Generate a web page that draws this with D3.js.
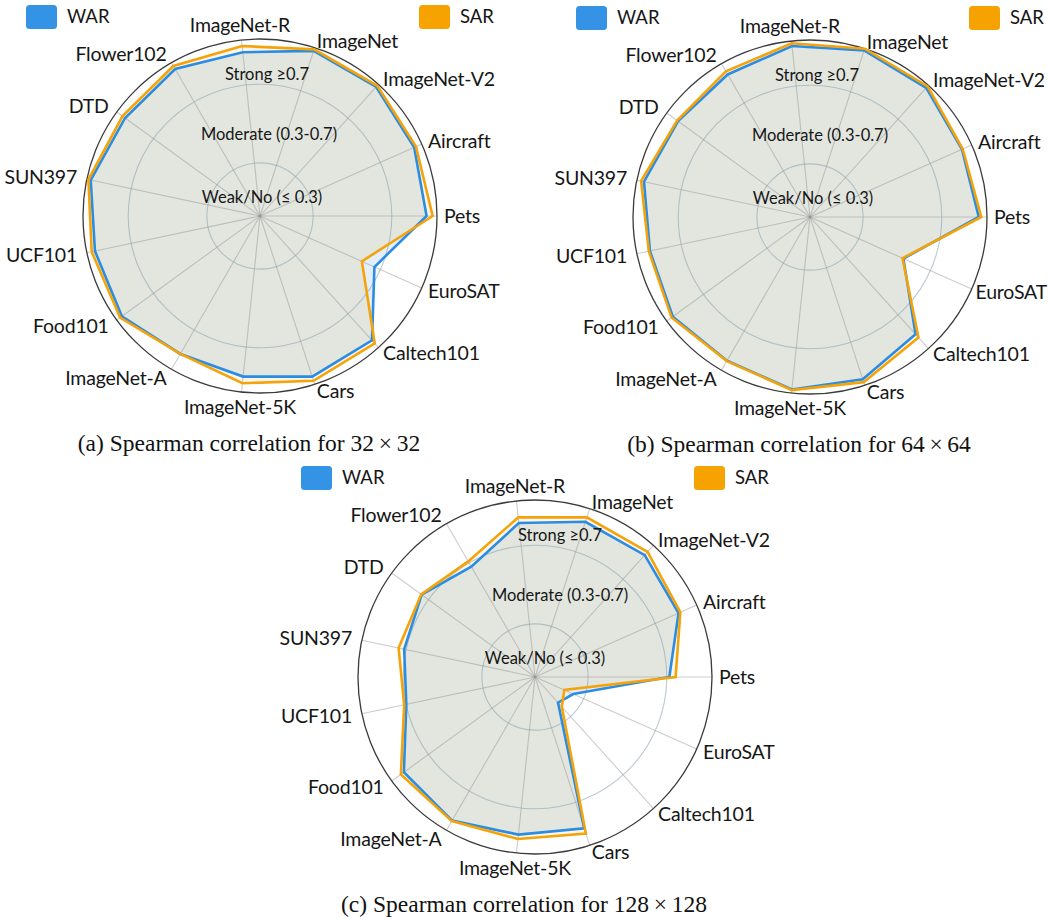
<!DOCTYPE html>
<html>
<head>
<meta charset="utf-8">
<script src="https://cdn.jsdelivr.net/npm/d3@7"></script>
<style>
  html, body { margin: 0; padding: 0; background: #fff; }
  svg { display: block; }
</style>
</head>
<body>
<script>
// Datasets, listed counter-clockwise starting from the 3 o'clock spoke
const categories = ["Pets", "Aircraft", "ImageNet-V2", "ImageNet", "ImageNet-R", "Flower102",
  "DTD", "SUN397", "UCF101", "Food101", "ImageNet-A", "ImageNet-5K", "Cars", "Caltech101", "EuroSAT"];

// Spearman correlation per dataset, 32x32
const war32 = [0.877, 0.888, 0.913, 0.913, 0.867, 0.893, 0.878, 0.910, 0.888, 0.898, 0.840, 0.851, 0.889, 0.881, 0.667];
const sar32 = [0.908, 0.898, 0.921, 0.921, 0.899, 0.911, 0.894, 0.922, 0.905, 0.909, 0.840, 0.885, 0.911, 0.902, 0.597];

// 64x64
const war64 = [0.888, 0.876, 0.913, 0.921, 0.904, 0.867, 0.859, 0.893, 0.862, 0.892, 0.874, 0.912, 0.898, 0.832, 0.550];
const sar64 = [0.901, 0.880, 0.924, 0.930, 0.918, 0.885, 0.865, 0.908, 0.868, 0.900, 0.876, 0.915, 0.913, 0.854, 0.545];

// 128x128
const war128 = [0.713, 0.829, 0.864, 0.860, 0.817, 0.678, 0.742, 0.710, 0.699, 0.854, 0.873, 0.836, 0.839, 0.205, 0.243];
const sar128 = [0.745, 0.839, 0.886, 0.884, 0.846, 0.709, 0.745, 0.739, 0.710, 0.873, 0.876, 0.858, 0.867, 0.234, 0.193];

const seriesNames = ["WAR", "SAR"];
const gridValues = [0.3, 0.7];
const bandLabels = ["Weak/No (\u2264 0.3)", "Moderate (0.3-0.7)", "Strong \u22650.7"];
const captions = [
  "(a) Spearman correlation for 32\u2009\u00d7\u200932",
  "(b) Spearman correlation for 64\u2009\u00d7\u200964",
  "(c) Spearman correlation for 128\u2009\u00d7\u2009128"
];

// ---- layout ----
const W = 1049, H = 917;
const R = 177;
const radialDomain = [0.03, 0.93];
const panels = [
  { cx: 260, cy: 216, war: war32,  sar: sar32,  caption: captions[0], bandDx: [2, 9, 7] },
  { cx: 810, cy: 217, war: war64,  sar: sar64,  caption: captions[1], bandDx: [3, 10, 7] },
  { cx: 535, cy: 677, war: war128, sar: sar128, caption: captions[2], bandDx: [10, 25, 25] }
];
const bandDy = [-19, -82, -142];

const colors = {
  war: "#2b8de2", sar: "#f4a30a",
  warSwatch: "#3593e6", sarSwatch: "#f6a200",
  warOnly: "#e4eefa", sarOnly: "#fbf5ea", both: "#e2e6df"
};

const labelFont = "Lato, 'Open Sans', sans-serif";

const svg = d3.select("body").append("svg")
  .attr("width", W).attr("height", H)
  .attr("viewBox", `0 0 ${W} ${H}`);
svg.append("rect").attr("width", W).attr("height", H).attr("fill", "#fff");

const r = d3.scaleLinear().domain(radialDomain).range([0, R]);
const angle = d3.scaleLinear().domain([0, categories.length]).range([0, 2 * Math.PI]);

// d3.lineRadial measures angles clockwise from 12 o'clock
const radialLine = vals => d3.lineRadial()
  .angle((d, i) => Math.PI / 2 - angle(i))
  .radius(d => r(d))
  .curve(d3.curveLinearClosed)(vals);

panels.forEach((p, pi) => {
  const g = svg.append("g").attr("transform", `translate(${p.cx},${p.cy})`);
  const clipId = `war-clip-${pi}`;
  g.append("clipPath").attr("id", clipId)
    .append("path").attr("d", radialLine(p.war));

  // fills: each series on its own, and the shared area on top
  g.append("path").attr("d", radialLine(p.war)).attr("fill", colors.warOnly);
  g.append("path").attr("d", radialLine(p.sar)).attr("fill", colors.sarOnly);
  g.append("path").attr("d", radialLine(p.sar)).attr("fill", colors.both)
    .attr("clip-path", `url(#${clipId})`);

  // spokes
  g.selectAll("line.spoke").data(categories).join("line")
    .attr("class", "spoke")
    .attr("x1", 0).attr("y1", 0)
    .attr("x2", (d, i) => R * Math.cos(angle(i)))
    .attr("y2", (d, i) => -R * Math.sin(angle(i)))
    .attr("stroke", "#8f8f8f").attr("stroke-opacity", 0.45).attr("stroke-width", 1.1);

  // threshold rings
  g.selectAll("circle.ring").data(gridValues).join("circle")
    .attr("class", "ring")
    .attr("r", d => r(d))
    .attr("fill", "none")
    .attr("stroke", "#8ea6b2").attr("stroke-opacity", 0.6).attr("stroke-width", 1.1);

  // outer boundary
  g.append("circle").attr("r", R).attr("fill", "none")
    .attr("stroke", "#3a3a3a").attr("stroke-width", 1.3);

  // series outlines
  g.append("path").attr("d", radialLine(p.war)).attr("fill", "none")
    .attr("stroke", colors.war).attr("stroke-width", 2.6).attr("stroke-linejoin", "miter");
  g.append("path").attr("d", radialLine(p.sar)).attr("fill", "none")
    .attr("stroke", colors.sar).attr("stroke-width", 2.6).attr("stroke-linejoin", "miter");

  // band annotations
  g.selectAll("text.band").data(bandLabels).join("text")
    .attr("class", "band")
    .attr("x", (d, i) => p.bandDx[i])
    .attr("y", (d, i) => bandDy[i])
    .attr("dy", "0.35em")
    .attr("text-anchor", "middle")
    .attr("font-family", labelFont).attr("font-size", 16.5)
    .attr("fill", "#161616")
    .text(d => d);

  // category labels
  g.selectAll("text.cat").data(categories).join("text")
    .attr("class", "cat")
    .attr("font-family", labelFont).attr("font-size", 19.5)
    .attr("letter-spacing", -0.2)
    .attr("fill", "#161616")
    .text(d => d)
    .each(function (d, i) {
      const a = angle(i);
      const c = Math.cos(a), s = Math.sin(a);
      const anchor = c > 0.15 ? "start" : c < -0.15 ? "end" : "middle";
      const rl = R + (anchor === "middle" ? 15 : (c > 0 ? 7 : 10));
      let x = rl * c;
      // keep labels inside the drawing area
      if (anchor === "start") {
        const len = this.getComputedTextLength();
        const maxX = W - 2 - p.cx - len;
        if (x > maxX) x = maxX;
      }
      d3.select(this)
        .attr("x", x)
        .attr("y", -rl * s)
        .attr("dy", "0.35em")
        .attr("text-anchor", anchor);
    });

  // legend
  const legend = [
    { name: seriesNames[0], x: -234, color: colors.warSwatch },
    { name: seriesNames[1], x: 159, color: colors.sarSwatch }
  ];
  const lg = g.selectAll("g.legend").data(legend).join("g")
    .attr("class", "legend")
    .attr("transform", d => `translate(${d.x},${-211})`);
  lg.append("rect").attr("width", 31).attr("height", 24).attr("rx", 3.5)
    .attr("fill", d => d.color);
  lg.append("text").attr("x", 41).attr("y", 12).attr("dy", "0.35em")
    .attr("font-family", labelFont).attr("font-size", 18.5)
    .attr("fill", "#161616")
    .text(d => d.name);

  // caption
  g.append("text")
    .attr("x", -11).attr("y", 235)
    .attr("text-anchor", "middle")
    .attr("font-family", "'Liberation Serif', 'Times New Roman', serif")
    .attr("font-size", 23.5)
    .attr("fill", "#111")
    .text(p.caption);
});
</script>
</body>
</html>
